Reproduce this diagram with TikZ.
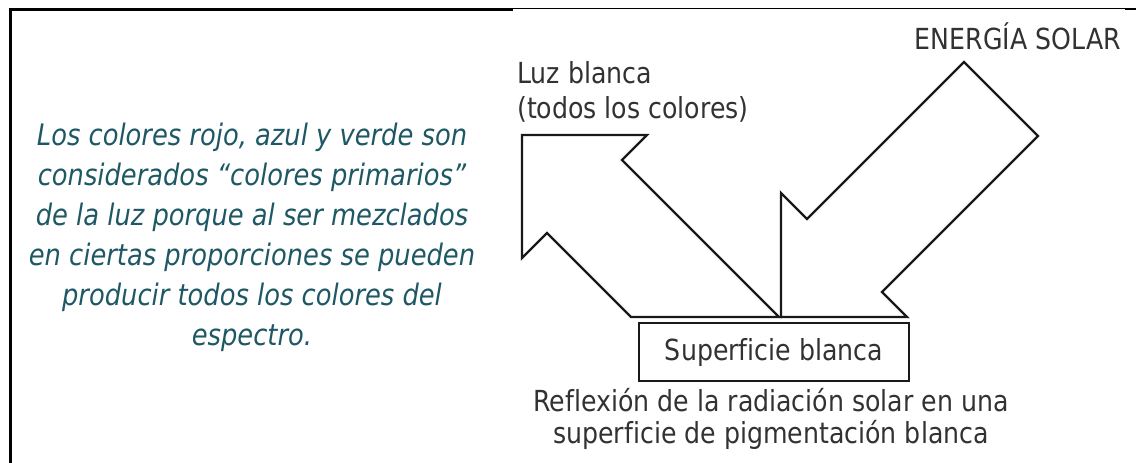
\documentclass[tikz,border=0pt]{standalone}
\usepackage{fontspec}
\setmainfont[Ligatures=NoCommon, FakeStretch=0.87]{DejaVu Sans}
\definecolor{tealtxt}{RGB}{30,88,100}
\definecolor{graytxt}{RGB}{50,50,50}
\definecolor{linecol}{RGB}{25,25,25}
\tikzset{
  blockarrow/.style={draw=linecol, line width=2.4pt, line join=miter, fill=white},
  rtext/.style={text=graytxt, inner sep=0pt, font=\fontsize{29}{35}\selectfont},
  ltext/.style={text=tealtxt, inner sep=0pt, align=center, font=\fontsize{29.6}{40}\selectfont\itshape},
  surface/.style={draw=linecol, line width=2.4pt, minimum width=270pt, minimum height=58pt, inner sep=0pt, text=graytxt, font=\fontsize{29}{30}\selectfont}
}
\begin{document}
\begin{tikzpicture}[x=1pt,y=-1pt]
\useasboundingbox (0,0) rectangle (1136,463);
% frame
\draw[line width=3pt, black] (10,463) -- (10,9) -- (513,9);
\draw[line width=1pt, black] (513,8.5) -- (1125,8.5);
\draw[line width=2pt, black] (1125,9.3) -- (1136,9.3);
% left paragraph
\node[ltext, anchor=north] (parrafo) at (252,123)
  {Los colores rojo, azul y verde son\\
   considerados “colores primarios”\\
   de la luz porque al ser mezclados\\
   en ciertas proporciones se pueden\\
   producir todos los colores del\\
   espectro.};
% arrows
\draw[blockarrow] (522,135) -- (647,135) -- (622,160) -- (779,317) -- (631,317) -- (547,233) -- (522,258) -- cycle;
\draw[blockarrow] (964,62) -- (1038,136) -- (882,292) -- (907,317) -- (781,317) -- (781,193) -- (807,219) -- cycle;
% box
\node[surface] (superficie) at (774,352) {Superficie blanca};
% labels
\node[rtext, anchor=base west] (luz1) at (517,83) {Luz blanca};
\node[rtext, anchor=base west] (luz2) at (517,118) {(todos los colores)};
\node[rtext, anchor=base east] (energia) at (1121,49) {ENERGÍA SOLAR};
\node[rtext, anchor=base] (refl1) at (771,411) {Reflexión de la radiación solar en una};
\node[rtext, anchor=base] (refl2) at (771,443) {superficie de pigmentación blanca};
\end{tikzpicture}
\end{document}
